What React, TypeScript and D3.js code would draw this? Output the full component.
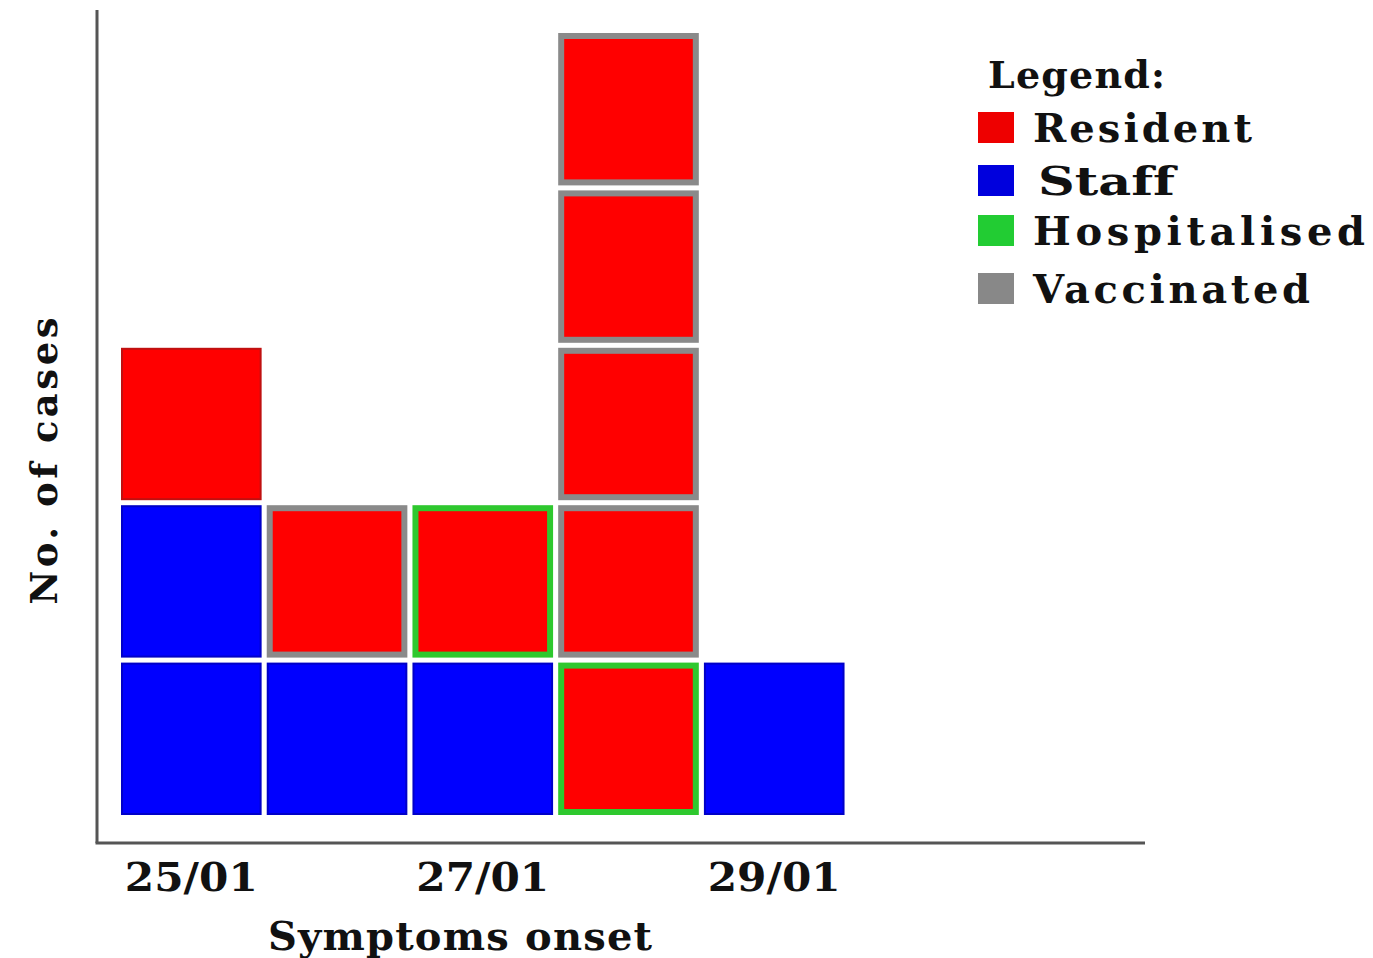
import React from "react";
import * as d3 from "d3";

const dates = ["25/01", "26/01", "27/01", "28/01", "29/01", "30/01", "31/01"];
const tickLabels = ["25/01", "27/01", "29/01"];
const caseDate = ["25/01", "25/01", "25/01", "26/01", "26/01", "27/01", "27/01", "28/01", "28/01", "28/01", "28/01", "28/01", "29/01"];
const caseType = ["Staff", "Staff", "Resident", "Staff", "Resident", "Staff", "Resident", "Resident", "Resident", "Resident", "Resident", "Resident", "Staff"];
const caseStatus = ["", "", "", "", "Vaccinated", "", "Hospitalised", "Hospitalised", "Vaccinated", "Vaccinated", "Vaccinated", "Vaccinated", ""];
const legendLabels = ["Resident", "Staff", "Hospitalised", "Vaccinated"];

const fillColor: Record<string, string> = { Resident: "#ff0000", Staff: "#0000ff" };
const edgeColor: Record<string, string> = { Resident: "#c01010", Staff: "#0000c8" };
const statusColor: Record<string, string> = { Hospitalised: "#2ec82e", Vaccinated: "#8a8a8a" };
const legendColor: Record<string, string> = { Resident: "#ee0000", Staff: "#0000dd", Hospitalised: "#22cc33", Vaccinated: "#888888" };

const FONT = "'DejaVu Serif', 'Liberation Serif', serif";
const TXT = { fontVariantLigatures: "none" as const };

export default function App() {
  const W = 1373, H = 958;
  const x = d3.scaleBand<string>().domain(dates).range([121, 1136]).paddingInner(0.035).paddingOuter(0);
  const y = d3.scaleLinear().domain([0, 5]).range([820, 33]);
  const gap = 5;

  const counts: Record<string, number> = {};
  const boxes = caseDate.map((d, i) => {
    const k = counts[d] || 0;
    counts[d] = k + 1;
    return { date: d, type: caseType[i], status: caseStatus[i], level: k };
  });

  return (
    <svg width={W} height={H} style={{ position: "fixed", left: 0, top: 0, background: "#fff" }}>
      {boxes.map((b, i) => {
        const x0 = x(b.date)!;
        const w = x.bandwidth();
        const yTop = y(b.level + 1);
        const yBot = y(b.level) - gap;
        const sw = b.status ? 6 : 2;
        const stroke = b.status ? statusColor[b.status] : edgeColor[b.type];
        return (
          <rect key={i} x={x0 + sw / 2} y={yTop + sw / 2} width={w - sw} height={yBot - yTop - sw}
            fill={fillColor[b.type]} stroke={stroke} strokeWidth={sw} />
        );
      })}
      <line x1={97} y1={10} x2={97} y2={843} stroke="#555" strokeWidth={3} />
      <line x1={95.5} y1={843} x2={1145} y2={843} stroke="#555" strokeWidth={3} />
      {tickLabels.map((t) => (
        <text key={t} x={x(t)! + x.bandwidth() / 2} y={891} textAnchor="middle" fontFamily={FONT} style={TXT}
          fontWeight="bold" fontSize={40} fill="#111" textLength={133} lengthAdjust="spacingAndGlyphs">{t}</text>
      ))}
      <text x={460} y={950} textAnchor="middle" fontFamily={FONT} fontWeight="bold" fontSize={40} fill="#111" style={TXT}
        textLength={384} lengthAdjust="spacing">Symptoms onset</text>
      <text transform="translate(57,461) rotate(-90)" textAnchor="middle" fontFamily={FONT} fontWeight="bold" fontSize={37} fill="#111" style={TXT}
        textLength={287} lengthAdjust="spacing">No. of cases</text>
      <text x={988} y={88} fontFamily={FONT} fontWeight="bold" fontSize={38} fill="#111" style={TXT}
        textLength={177} lengthAdjust="spacing">Legend:</text>
      {legendLabels.map((l, i) => {
        const ys = [112, 165, 215, 273][i];
        const lens = [219, 137, 332, 277];
        const xs = [1033, 1038, 1033, 1033];
        return (
          <g key={l}>
            <rect x={978} y={ys} width={36} height={31} fill={legendColor[l]} />
            <text x={xs[i]} y={ys + 30} fontFamily={FONT} fontWeight="bold" fontSize={40} fill="#111" style={TXT}
              textLength={lens[i]} lengthAdjust={l === "Staff" ? "spacingAndGlyphs" : "spacing"}>{l}</text>
          </g>
        );
      })}
    </svg>
  );
}
